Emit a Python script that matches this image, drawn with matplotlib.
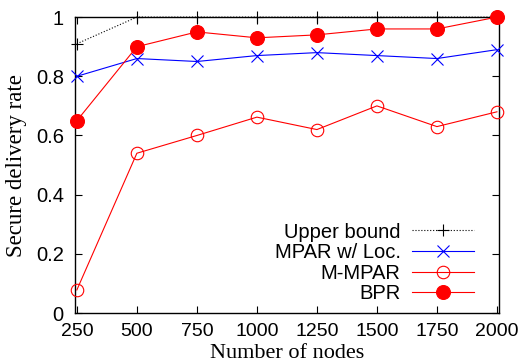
import matplotlib
matplotlib.use('Agg')
import matplotlib.pyplot as plt

nodes = [250, 500, 750, 1000, 1250, 1500, 1750, 2000]
upper_bound = [0.91, 1.0, 1.0, 1.0, 1.0, 1.0, 1.0, 1.0]
mpar_loc = [0.80, 0.86, 0.85, 0.87, 0.88, 0.87, 0.86, 0.89]
m_mpar = [0.078, 0.54, 0.60, 0.662, 0.62, 0.70, 0.63, 0.68]
bpr = [0.65, 0.90, 0.95, 0.93, 0.94, 0.96, 0.96, 1.0]
yticks = [0, 0.2, 0.4, 0.6, 0.8, 1]
ytick_labels = ['0', '0.2', '0.4', '0.6', '0.8', '1']

sans = 'Liberation Sans'
serif = 'Liberation Serif'

fig = plt.figure(figsize=(5.24, 3.64), dpi=100)
ax = fig.add_axes([0.143, 0.14, 0.809, 0.813])

ax.plot(nodes, upper_bound, color='black', linestyle=':', linewidth=0.8,
        marker='+', markersize=9, markeredgewidth=0.8, clip_on=False,
        label='Upper bound', zorder=3)
ax.plot(nodes, mpar_loc, color='#0000ff', linewidth=0.8,
        marker='x', markersize=9, markeredgewidth=0.8, clip_on=False,
        label='MPAR w/ Loc.', zorder=4)
ax.plot(nodes, m_mpar, color='#ff0000', linewidth=0.8,
        marker='o', markersize=9, markerfacecolor='none', markeredgewidth=0.8,
        clip_on=False, label='M-MPAR', zorder=4)
ax.plot(nodes, bpr, color='#ff0000', linewidth=0.8,
        marker='o', markersize=10, markeredgewidth=0.8, clip_on=False,
        label='BPR', zorder=5)

ax.set_xlim(242, 2008)
ax.set_ylim(0, 1)
ax.set_xticks(nodes)
ax.set_xticklabels([str(n) for n in nodes], fontfamily=sans, fontsize=14)
ax.set_yticks(yticks)
ax.set_yticklabels(ytick_labels, fontfamily=sans, fontsize=14.5)
ax.tick_params(direction='in', length=5, width=0.8, top=True, right=True)
ax.tick_params(axis='x', pad=7)
ax.tick_params(axis='y', pad=8)
for s in ax.spines.values():
    s.set_linewidth(1.0)

ax.set_xlabel('Number of nodes', fontfamily=serif, fontsize=16, va='bottom')
ax.xaxis.set_label_coords(0.5, -0.168)
ax.set_ylabel('Secure delivery rate', fontfamily=serif, fontsize=16.5)
ax.yaxis.set_label_coords(-0.112, 0.5)

leg = ax.legend(loc='lower right', bbox_to_anchor=(0.975, -0.015), markerfirst=False,
                frameon=False, prop={'family': sans, 'size': 14.5},
                handlelength=3.1, handletextpad=0.55, labelspacing=0.08,
                borderaxespad=0.3)

fig.savefig('out.png', dpi=100)
